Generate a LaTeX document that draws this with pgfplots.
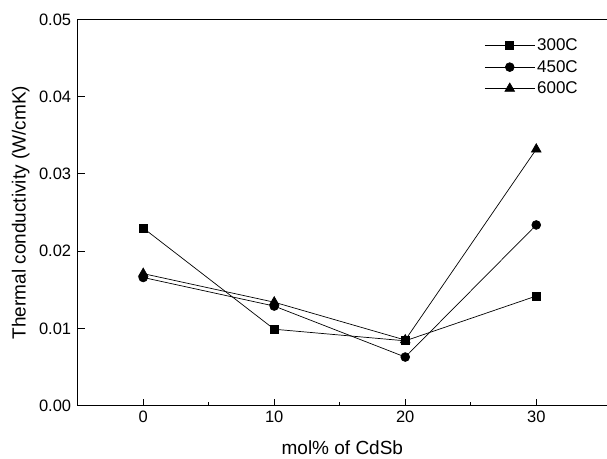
\documentclass[border=0pt]{standalone}
\usepackage{pgfplots}
\pgfplotsset{compat=1.18}
\usepackage{fontspec}
\setmainfont{Liberation Sans}

\pgfplotstableread{
x    t300    t450    t600
0    0.0230  0.0166  0.0171
10   0.0099  0.0129  0.0134
20   0.0084  0.0063  0.0085
30   0.0142  0.0234  0.0332
}\cond

\begin{document}
\begin{tikzpicture}
\begin{axis}[
  at={(0,0)}, anchor=south west,
  scale only axis, width=529.3pt, height=386.2pt,
  xmin=-5, xmax=35.4, ymin=0, ymax=0.05,
  axis x line=box, axis y line=left,
  axis line style={line width=1.2pt, -},
  xtick={0,10,20,30}, minor xtick={5,15,25},
  ytick={0,0.01,...,0.05},
  tick align=inside, xtick pos=bottom, ytick pos=left,
  major tick length=7pt, minor tick length=4pt,
  tick style={line width=1pt, black},
  yticklabel style={xshift=-3pt, /pgf/number format/.cd, fixed, fixed zerofill, precision=2},
  xticklabel style={yshift=-2pt},
  scaled y ticks=false,
  /pgf/number format/assume math mode=true,
  tick label style={font=\fontsize{16.5}{18}\selectfont},
  every axis x label/.style={at={(axis description cs:0.5,0)}, yshift=-42pt, anchor=center},
  every axis y label/.style={at={(axis description cs:0,0.5)}, xshift=-57pt, rotate=90, anchor=center},
  label style={font=\fontsize{19}{22}\selectfont},
  xlabel={mol\% of CdSb},
  ylabel={Thermal conductivity (W/cmK)},
  legend style={at={(rel axis cs:0.768,0.955)}, anchor=north west, draw=none, fill=none,
    inner sep=0pt, row sep=4pt, font=\fontsize{17}{19}\selectfont,
    /tikz/every even column/.append style={column sep=0pt}},
  legend cell align=left,
  legend image code/.code={\draw[mark repeat=2,mark phase=2] plot coordinates {(0pt,0pt) (25pt,0pt) (50pt,0pt)};},
  every axis plot/.append style={black, line width=0.7pt},
]
\addplot[mark=square*, mark size=4pt] table[x=x,y=t300] {\cond};
\addlegendentry{300C}
\addplot[mark=*, mark size=4.4pt] table[x=x,y=t450] {\cond};
\addlegendentry{450C}
\addplot[mark=triangle*, mark size=5.5pt] table[x=x,y=t600] {\cond};
\addlegendentry{600C}
% square markers on top, as in the original
\addplot[only marks, mark=square*, mark size=4pt, forget plot] table[x=x,y=t300] {\cond};
\end{axis}
\pgfresetboundingbox
\path (-77.7pt,-52.3pt) rectangle (529.3pt,405.7pt);
\end{tikzpicture}
\end{document}
